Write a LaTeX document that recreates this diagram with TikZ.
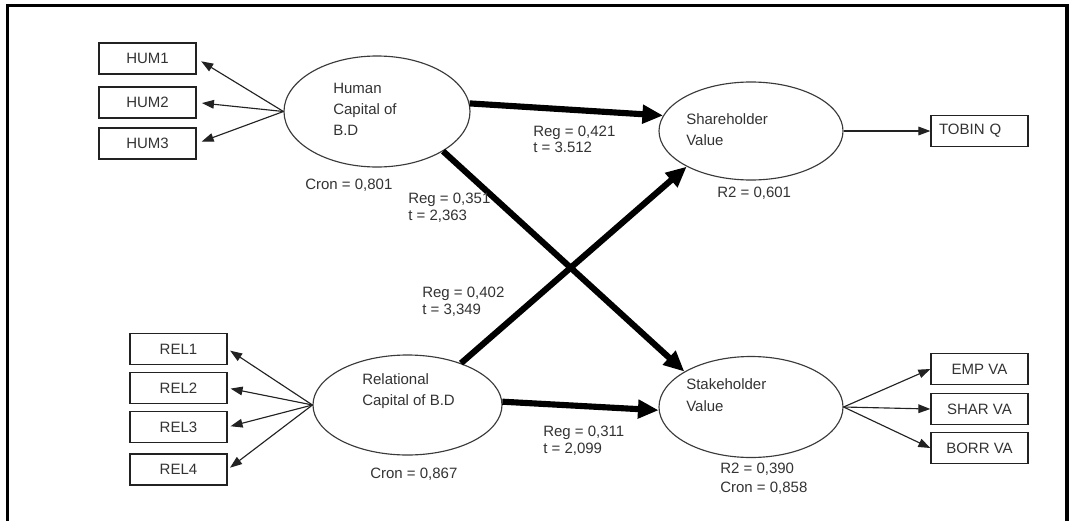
\documentclass[tikz,border=0pt]{standalone}
\usepackage{fontspec}
\setmainfont{Liberation Sans}
\usetikzlibrary{arrows.meta,shapes.geometric}
\definecolor{ink}{HTML}{222222}
\definecolor{rim}{HTML}{3A3A3A}
\definecolor{txt}{HTML}{333333}
\tikzset{
  lbl/.style={inner sep=0pt, anchor=west, align=left, text=txt,
    font=\fontsize{11.25}{12.5}\selectfont},
  ctext/.style={inner sep=0pt, anchor=west, align=left, text=txt,
    font=\fontsize{11.25}{16}\selectfont},
  latent/.style={ellipse, draw=rim, line width=0.85pt, inner sep=0pt},
  ind/.style={rectangle, draw=ink, line width=0.95pt, inner sep=0pt,
    minimum width=72.75pt, minimum height=23.25pt, text=txt,
    font=\fontsize{11.25}{13}\selectfont},
  load/.style={draw=ink, line width=0.85pt, -{Triangle[length=9pt,width=6.5pt]}},
  effect/.style={draw=black, line width=4.6pt, -{Triangle[length=15.5pt,width=13.5pt]}},
}
\begin{document}
\begin{tikzpicture}[x=0.75pt, y=-0.75pt]
  \useasboundingbox[fill=white] (0,0) rectangle (1073,521);
  % open frame
  \draw[line width=2.3pt, black] (7.5,521) -- (7.5,5.5) -- (1067,5.5) -- (1067,521);

  % indicators
  \node[ind] (h1) at (147.5,58.5) {HUM1};
  \node[ind] (h2) at (147.5,102.5) {HUM2};
  \node[ind] (h3) at (147.5,143.5) {HUM3};
  \node[ind] (r1) at (178.5,349) {REL1};
  \node[ind] (r2) at (178.5,388) {REL2};
  \node[ind] (r3) at (178.5,427) {REL3};
  \node[ind] (r4) at (178.5,469.5) {REL4};
  \node[ind, text width=60.75pt, inner xsep=6pt, align=left] (tq) at (979.5,131) {TOBIN Q};
  \node[ind] (emp) at (979.5,369) {EMP VA};
  \node[ind] (shr) at (979.5,409) {SHAR VA};
  \node[ind] (bor) at (979.5,448) {BORR VA};

  % latent constructs
  \node[latent, minimum width=139.5pt, minimum height=83.25pt] (hum) at (377,111.5) {};
  \node[latent, minimum width=141.75pt, minimum height=75pt] (rel) at (407.5,405) {};
  \node[latent, minimum width=138pt, minimum height=73.5pt] (sha) at (751,131) {};
  \node[latent, minimum width=138pt, minimum height=75.75pt] (sta) at (751,407) {};

  \node[ctext] (humT) at (333,109.5) {Human\\Capital of\\B.D};
  \node[ctext] (relT) at (362,391) {Relational\\Capital of B.D};
  \node[ctext] (shaT) at (686,129.5) {Shareholder\\Value};
  \node[ctext] (staT) at (686,395) {Stakeholder\\Value};

  % measurement arrows
  \foreach \b in {h1,h2,h3} \draw[load, shorten >=4pt] (hum.west) -- (\b.east);
  \foreach \b in {r1,r2,r3,r4} \draw[load, shorten >=2.25pt] (rel.west) -- (\b.east);
  \draw[load] (sha.east) -- (tq.west);
  \foreach \b in {emp,shr,bor} \draw[load] (sta.east) -- (\b.west);

  % structural paths
  \draw[effect] (hum.5) -- (sha.170);
  \draw[effect] (hum.-31) -- (sta.152);
  \draw[effect] (rel.38) -- (sha.209);
  \draw[effect] (rel.2) -- (sta.182);

  % statistics
  \node[lbl] (cH) at (305,185) {Cron = 0,801};
  \node[lbl] (cR) at (370,474) {Cron = 0,867};
  \node[lbl] (qS) at (717,193) {R2 = 0,601};
  \node[lbl, font=\fontsize{11.25}{14.25}\selectfont] (qT) at (720,478.5) {R2 = 0,390\\Cron = 0,858};
  \node[lbl] (e1) at (533,139.5) {Reg = 0,421\\t = 3.512};
  \node[lbl] (e2) at (408,208) {Reg = 0,351\\t = 2,363};
  \node[lbl] (e3) at (422,302) {Reg = 0,402\\t = 3,349};
  \node[lbl] (e4) at (543,440.5) {Reg = 0,311\\t = 2,099};
\end{tikzpicture}
\end{document}
